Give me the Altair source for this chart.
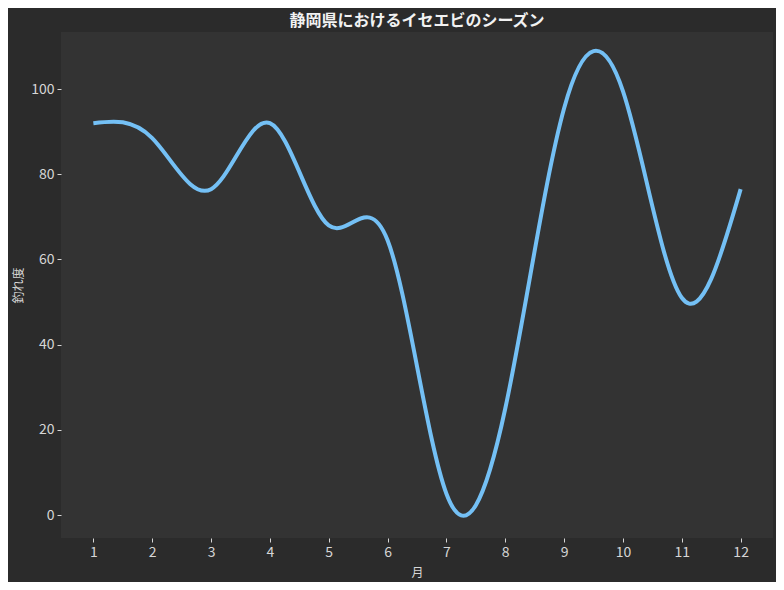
import altair as alt
import pandas as pd

months = [1, 2, 3, 4, 5, 6, 7, 8, 9, 10, 11, 12]
catch_rate = [92, 88.5, 76.5, 92, 68, 64.5, 5, 25, 95.5, 99.5, 51, 76.5]

df = pd.DataFrame({"月": months, "釣れ度": catch_rate})

BG = "#2b2b2b"
PLOT_BG = "#333333"
TXT = "#d6d6d6"
LABEL_FONT = "Liberation Sans Narrow, Noto Sans CJK JP"
CJK = "Noto Sans CJK JP"

line = alt.Chart(df).mark_line(
    interpolate="natural", color="#74c0f5", strokeWidth=4, clip=True
).encode(
    x=alt.X("月:Q", scale=alt.Scale(domain=[0.45, 12.55], nice=False, zero=False),
            axis=alt.Axis(values=months, title="月", format="d")),
    y=alt.Y("釣れ度:Q", scale=alt.Scale(domain=[-5.4, 113.4], nice=False, zero=False),
            axis=alt.Axis(values=[0, 20, 40, 60, 80, 100], title="釣れ度")),
)

chart = line.properties(
    width=712,
    height=506,
    title=alt.TitleParams("静岡県におけるイセエビのシーズン", font=CJK, fontSize=16,
                          fontWeight="bold", color="#f2f2f2", anchor="middle", offset=3),
    background=BG,
    autosize=alt.AutoSizeParams(type="none"),
    padding={"left": 53, "top": 24, "right": 3, "bottom": 44},
).configure_view(
    fill=PLOT_BG, stroke=None
).configure_axis(
    grid=False,
    domain=False,
    tickColor=TXT,
    tickSize=4,
    tickWidth=1,
    labelColor=TXT,
    labelFont=LABEL_FONT,
    labelFontSize=14,
    labelPadding=3,
    titleColor=TXT,
    titleFont=CJK,
    titleFontSize=12,
    titleFontWeight="normal",
).configure_axisX(
    titlePadding=8
).configure_axisY(
    titlePadding=5
)

chart.save("out.html", embed_options={"renderer": "svg", "actions": False})
